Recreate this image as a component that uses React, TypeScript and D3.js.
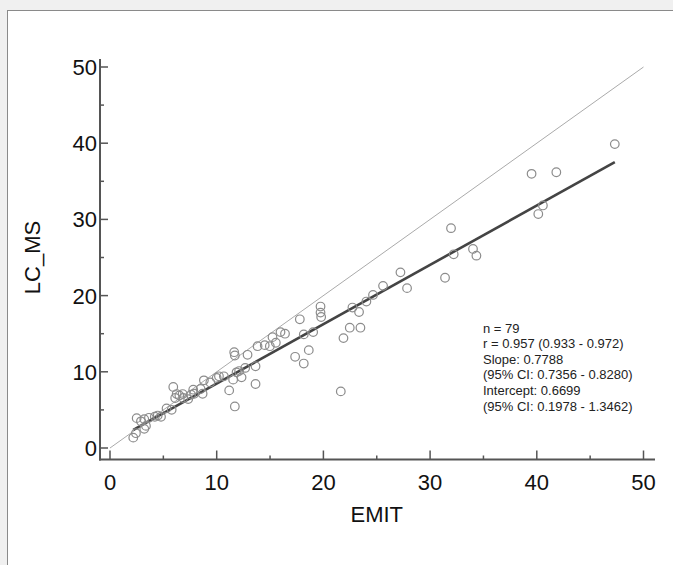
import * as d3 from "d3";

const W = 673;
const H = 565;

// EMIT (x) vs LC_MS (y)
const emit = [
  2.18, 2.43, 2.5, 3.21, 3.21, 3.37, 3.65, 4.47, 4.78, 5.78,
  5.93, 6.11, 6.25, 6.81, 6.86, 7.33, 7.8, 7.89, 8.49, 8.68,
  8.8, 10.21, 10.67, 11.17, 11.54, 11.64, 11.7, 11.7, 11.86, 12.33,
  12.67, 12.89, 13.64, 13.64, 13.83, 14.98, 15.23, 15.54, 15.98, 17.35,
  17.79, 18.16, 18.16, 18.63, 19.04, 19.73, 19.73, 19.79, 21.63, 21.88,
  22.47, 22.72, 23.34, 23.47, 24.03, 24.65, 25.59, 27.22, 27.84, 31.4,
  31.96, 32.21, 34.02, 34.34, 39.51, 40.14, 40.57, 41.83, 47.31,
  2.9, 4.2, 5.3, 6.5, 7.6, 9.4, 10.0, 12.1, 14.5, 16.4,
];
const lcms = [
  1.36, 1.94, 3.92, 3.79, 2.51, 2.9, 3.96, 4.26, 4.09, 5.01,
  8.01, 6.56, 7.08, 7.08, 6.56, 6.42, 7.65, 7.12, 7.74, 7.12,
  8.88, 9.41, 9.41, 7.56, 8.97, 12.57, 12.14, 5.45, 9.93, 9.27,
  10.51, 12.23, 10.73, 8.4, 13.36, 13.36, 14.55, 13.81, 15.21, 11.97,
  16.89, 14.91, 11.08, 12.84, 15.21, 18.56, 17.77, 17.19, 7.43, 14.42,
  15.79, 18.43, 17.85, 15.79, 19.22, 20.09, 21.28, 23.05, 20.98, 22.34,
  28.85, 25.42, 26.12, 25.24, 35.98, 30.7, 31.83, 36.19, 39.88,
  3.5, 4.1, 5.2, 6.9, 7.0, 8.6, 9.2, 10.1, 13.5, 15.0,
];

const stats = [
  "n = 79",
  "r = 0.957 (0.933 - 0.972)",
  "Slope: 0.7788",
  "(95% CI: 0.7356 - 0.8280)",
  "Intercept: 0.6699",
  "(95% CI: 0.1978 - 1.3462)",
];
const slope = 0.7788;
const intercept = 0.6699;

const majorTicks = [0, 10, 20, 30, 40, 50];
const minorTicks = [5, 15, 25, 35, 45];

const font = "'Liberation Sans', Arial, sans-serif";
const axisColor = "#555";

export default function App() {
  const x = d3.scaleLinear().domain([0, 50]).range([110, 643.5]);
  const y = d3.scaleLinear().domain([0, 50]).range([448, 67]);

  const axisX = 100; // y axis line position
  const axisY = 459.5; // x axis line position

  const points = emit.map((e, i) => [e, lcms[i]] as [number, number]);
  const xMin = d3.min(emit) as number;
  const xMax = d3.max(emit) as number;

  const line = d3
    .line<[number, number]>()
    .x((d) => x(d[0]))
    .y((d) => y(d[1]));

  return (
    <svg
      width={W}
      height={H}
      style={{ position: "absolute", left: 0, top: 0 }}
      fontFamily={font}
    >
      <rect x={0} y={0} width={W} height={H} fill="#f0f0f0" />
      <rect x={7.5} y={10.5} width={W + 20} height={H + 20} fill="#fff" stroke="#8a8a8a" strokeWidth={1} />

      {/* identity line */}
      <path d={line([[0, 0], [50, 50]]) ?? ""} stroke="#aaa" strokeWidth={1} fill="none" />

      {/* regression line */}
      <path
        d={line([[xMin, intercept + slope * xMin], [xMax, intercept + slope * xMax]]) ?? ""}
        stroke="#444"
        strokeWidth={2.6}
        fill="none"
      />

      {points.map((p, i) => (
        <circle key={i} cx={x(p[0])} cy={y(p[1])} r={4.3} fill="none" stroke="#8c8c8c" strokeWidth={1.2} />
      ))}

      {/* y axis */}
      <line x1={axisX} x2={axisX} y1={y(50) - 8} y2={axisY + 1} stroke={axisColor} strokeWidth={2} />
      {majorTicks.map((t) => (
        <g key={"ym" + t}>
          <line x1={axisX} x2={axisX + 8} y1={y(t)} y2={y(t)} stroke={axisColor} strokeWidth={1.5} />
          <text x={axisX - 3} y={y(t)} dy="0.36em" textAnchor="end" fontSize={22} fill="#111">
            {t}
          </text>
        </g>
      ))}
      {minorTicks.map((t) => (
        <line key={"yn" + t} x1={axisX} x2={axisX + 4} y1={y(t)} y2={y(t)} stroke={axisColor} strokeWidth={1.5} />
      ))}

      {/* x axis */}
      <line x1={axisX - 1} x2={655} y1={axisY} y2={axisY} stroke={axisColor} strokeWidth={2} />
      {majorTicks.map((t) => (
        <g key={"xm" + t}>
          <line x1={x(t)} x2={x(t)} y1={axisY} y2={axisY - 9} stroke={axisColor} strokeWidth={1.5} />
          <text x={x(t)} y={482} dy="0.36em" textAnchor="middle" fontSize={22} fill="#111">
            {t}
          </text>
        </g>
      ))}
      {minorTicks.map((t) => (
        <line key={"xn" + t} x1={x(t)} x2={x(t)} y1={axisY} y2={axisY - 4} stroke={axisColor} strokeWidth={1.5} />
      ))}

      <text x={(x(0) + x(50)) / 2} y={514} dy="0.36em" textAnchor="middle" fontSize={22} fill="#111">
        EMIT
      </text>
      <text
        transform={`translate(32,${(y(0) + y(50)) / 2}) rotate(-90)`}
        dy="0.36em"
        textAnchor="middle"
        fontSize={22}
        fill="#111"
      >
        LC_MS
      </text>

      {stats.map((s, i) => (
        <text key={i} x={483} y={328 + i * 15.6} dy="0.35em" fontSize={13} fill="#222">
          {s}
        </text>
      ))}
    </svg>
  );
}
